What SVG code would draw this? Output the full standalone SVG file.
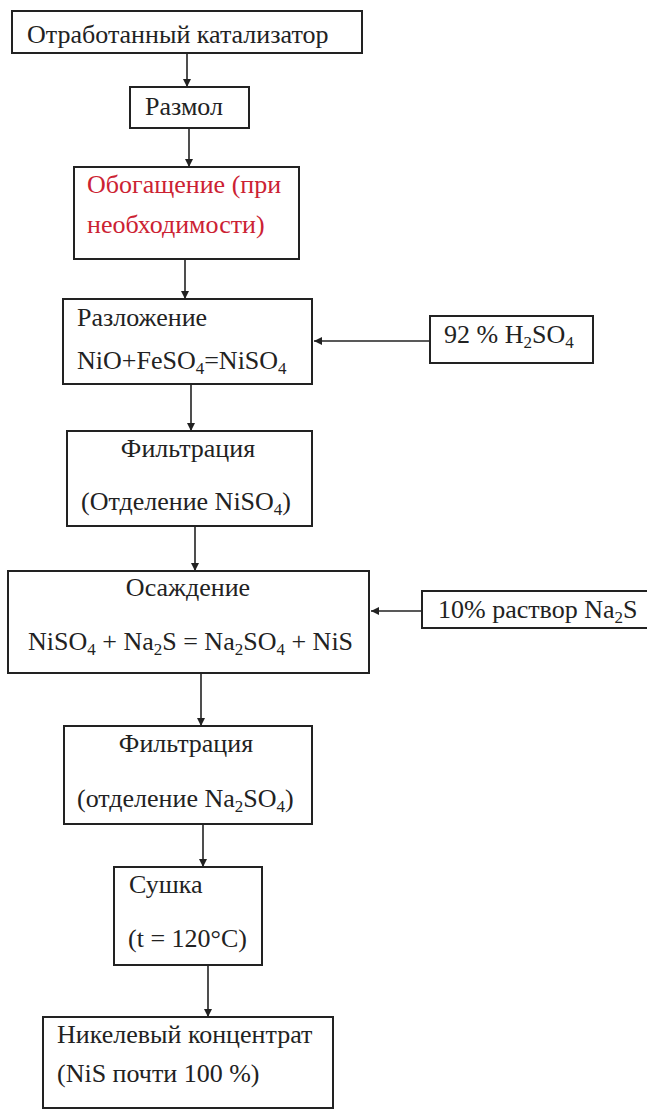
<svg xmlns="http://www.w3.org/2000/svg" width="647" height="1110" viewBox="0 0 647 1110">
<style>
rect{fill:#fff;stroke:#222;stroke-width:2}
text{font-family:'Liberation Serif','DejaVu Serif',serif;font-size:26px;fill:#222}
.red{fill:#cc2233}
.c{text-anchor:middle}
.s{font-size:17px}
#edges line{stroke:#222;stroke-width:1.6}
</style>
<defs>
<marker id="ah" viewBox="0 0 10 10" refX="10" refY="5" markerWidth="8" markerHeight="8" markerUnits="userSpaceOnUse" orient="auto">
<path d="M0,0 L10,5 L0,10 z" fill="#222"/>
</marker>
</defs>
<rect width="647" height="1110" style="fill:#fff;stroke:none"/>
<g id="edges">
<line x1="187" y1="53" x2="187" y2="87" marker-end="url(#ah)"/>
<line x1="189" y1="128" x2="189" y2="167" marker-end="url(#ah)"/>
<line x1="185" y1="259" x2="185" y2="299" marker-end="url(#ah)"/>
<line x1="191" y1="384" x2="191" y2="431" marker-end="url(#ah)"/>
<line x1="195" y1="526" x2="195" y2="571" marker-end="url(#ah)"/>
<line x1="201" y1="673" x2="201" y2="726" marker-end="url(#ah)"/>
<line x1="203" y1="824" x2="203" y2="867" marker-end="url(#ah)"/>
<line x1="208" y1="965" x2="208" y2="1017" marker-end="url(#ah)"/>
<line x1="430" y1="341" x2="314" y2="341" marker-end="url(#ah)"/>
<line x1="422" y1="611" x2="371" y2="611" marker-end="url(#ah)"/>
</g>
<g font-family="Liberation Serif, DejaVu Serif, serif">
<g id="n1"><rect x="12" y="11" width="350" height="42"/><text x="27" y="43">Отработанный катализатор</text></g>
<g id="n2"><rect x="130" y="87" width="119" height="41"/><text x="145" y="115">Размол</text></g>
<g id="n3"><rect x="74" y="167" width="225" height="92"/><text class="red" x="87" y="193">Обогащение (при</text><text class="red" x="87" y="233">необходимости)</text></g>
<g id="n4"><rect x="63" y="299" width="249" height="85"/><text x="77" y="326">Разложение</text><text x="77" y="369">NiO+FeSO<tspan class="s" dy="5">4</tspan><tspan dy="-5">=NiSO</tspan><tspan class="s" dy="5">4</tspan></text></g>
<g id="n5"><rect x="430" y="316" width="163" height="47"/><text x="444" y="343">92 % H<tspan class="s" dy="5">2</tspan><tspan dy="-5">SO</tspan><tspan class="s" dy="5">4</tspan></text></g>
<g id="n6"><rect x="67" y="431" width="245" height="95"/><text class="c" x="188" y="457">Фильтрация</text><text x="81" y="510">(Отделение NiSO<tspan class="s" dy="5">4</tspan><tspan dy="-5">)</tspan></text></g>
<g id="n7"><rect x="8" y="571" width="361" height="102"/><text class="c" x="188" y="596">Осаждение</text><text x="28" y="650">NiSO<tspan class="s" dy="5">4</tspan><tspan dy="-5"> + Na</tspan><tspan class="s" dy="5">2</tspan><tspan dy="-5">S = Na</tspan><tspan class="s" dy="5">2</tspan><tspan dy="-5">SO</tspan><tspan class="s" dy="5">4</tspan><tspan dy="-5"> + NiS</tspan></text></g>
<g id="n8"><rect x="422" y="591" width="232" height="37"/><text x="438" y="618">10% раствор Na<tspan class="s" dy="5">2</tspan><tspan dy="-5">S</tspan></text></g>
<g id="n9"><rect x="64" y="726" width="248" height="98"/><text class="c" x="186" y="752">Фильтрация</text><text x="77" y="807">(отделение Na<tspan class="s" dy="5">2</tspan><tspan dy="-5">SO</tspan><tspan class="s" dy="5">4</tspan><tspan dy="-5">)</tspan></text></g>
<g id="n10"><rect x="114" y="867" width="148" height="98"/><text x="129" y="893">Сушка</text><text x="128" y="947">(t = 120°C)</text></g>
<g id="n11"><rect x="43" y="1017" width="290" height="91"/><text x="57" y="1043">Никелевый концентрат</text><text x="57" y="1082">(NiS почти 100 %)</text></g>
</g>
</svg>
